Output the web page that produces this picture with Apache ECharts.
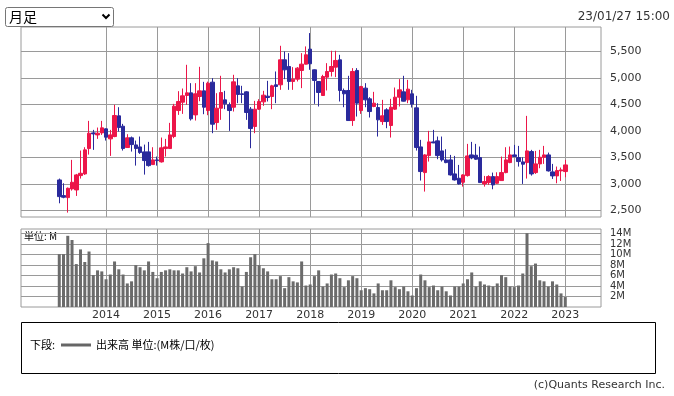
<!DOCTYPE html>
<html><head><meta charset="utf-8">
<script src="https://cdn.jsdelivr.net/npm/echarts@6/dist/echarts.min.js"></script>
<style>html,body{margin:0;padding:0;background:#fff;}#c{width:674px;height:396px;}</style>
</head><body><div id="c"></div>
<script>
// monthly categories Feb 2013 .. Jan 2023
const months = [];
for (let y = 2013, m = 2; months.length < 120;) { months.push(y + '/' + String(m).padStart(2, '0')); m++; if (m > 12) { m = 1; y++; } }

const openP = [3073,2777,2739,2903,2884,3155,3187,3666,3962,3924,3962,4038,3849,3893,4284,4088,3685,3868,3735,3697,
3603,3603,3363,3452,3414,3666,3666,3893,4384,4542,4668,4718,4302,4649,4756,4384,4920,4157,4428,4586,
4492,4447,4851,4700,4737,4410,4082,4410,4548,4655,4649,4870,4870,5342,5216,4933,4977,5141,5260,5544,
5153,4933,4668,5015,5122,5204,5342,4763,4763,4195,5141,4384,4807,4605,4460,4441,4176,4397,4101,4410,
4636,4737,4586,4700,4435,3697,3212,3533,3792,3811,3622,3452,3452,3187,3105,3029,3155,3546,3540,3496,
2998,3023,3136,3010,3061,3212,3401,3546,3496,3414,3401,3609,3212,3376,3502,3546,3225,3149,3244,3231];
const closeP = [2758,2746,2916,3029,3168,3199,3641,3956,3943,3956,4057,3880,3924,4290,4063,3666,3868,3741,3666,3590,
3439,3344,3452,3439,3679,3697,3924,4466,4555,4662,4718,4227,4700,4756,4447,4901,4126,4428,4725,4510,
4384,4926,4687,4687,4347,4044,4410,4555,4674,4630,4851,4838,5342,5153,4933,4977,5185,5260,5437,5267,
4952,4725,5027,5122,5216,5330,4763,4700,4195,5122,4523,4838,4586,4365,4523,4208,4284,4176,4447,4636,
4775,4561,4788,4504,3685,3231,3546,3792,3773,3533,3452,3401,3168,3073,2998,3168,3527,3489,3464,3023,
3042,3136,2979,3136,3212,3452,3546,3515,3420,3370,3622,3187,3376,3502,3546,3244,3149,3250,3263,3357];
const lowP = [2632,2727,2456,2872,2771,3099,3168,3552,3641,3849,3924,3817,3527,3880,3987,3628,3680,3609,3344,3565,
3174,3325,3360,3344,3401,3515,3660,3861,4302,4321,4492,4195,4195,4560,4315,4296,3956,4019,4208,4410,
4000,4365,4523,4523,4208,3672,3956,4397,4473,4555,4410,4523,4775,4977,4775,4775,4933,4807,5255,5153,
4510,4460,4662,4763,5027,5015,4555,4447,4195,4094,4271,4321,4447,4252,4447,3893,4113,4050,3874,4397,
4460,4555,4523,4441,3628,3061,2853,3420,3767,3464,3420,3389,3155,3061,2985,2947,3136,3464,3451,3023,
2947,2979,2897,2998,3061,3199,3389,3502,3325,2998,3099,3155,3187,3294,3376,3231,3092,3010,3054,3124];
const highP = [3099,3010,2930,3452,3187,3628,3691,4189,4019,4063,4189,4045,4019,4492,4447,4132,3937,3893,3817,3893,
3741,3792,3691,3515,3874,3849,4151,4510,4750,4800,5248,4901,4901,5210,4926,4930,4996,4712,5040,4756,
4536,5059,4996,4851,4750,4450,4567,4599,4756,4945,4870,5122,5607,5500,5468,5204,5204,5468,5595,5847,
5160,4940,5059,5279,5513,5513,5437,4800,5040,5185,5185,4850,4901,4637,4737,4523,4586,4428,4605,4819,
4977,5040,4964,4775,4662,3830,3560,4000,4019,3893,3893,3653,3546,3527,3357,3180,3754,3792,3754,3704,
3149,3162,3212,3218,3515,3691,3704,3735,3716,3502,4283,3641,3622,3641,3716,3590,3376,3326,3307,3452];
const volume = [10.1,10.1,13.6,12.8,8.2,11.0,8.6,10.6,6.1,7.0,6.8,5.3,6.2,8.7,7.2,6.2,4.5,4.9,8.0,7.6,
7.0,8.7,6.7,5.5,6.7,7.0,7.2,7.0,7.0,6.4,7.6,6.8,7.8,6.6,9.3,12.2,8.9,8.7,7.2,6.6,
7.2,7.6,7.4,3.9,6.7,9.5,10.1,8.0,7.4,6.8,5.3,5.3,5.9,3.6,5.7,4.9,4.7,8.7,4.1,4.3,
5.9,7.0,3.9,4.5,6.2,6.4,5.5,3.8,5.1,5.9,5.5,3.2,3.6,3.4,2.6,4.5,3.2,3.2,5.1,3.8,
3.4,3.9,3.0,2.2,3.6,6.2,5.1,3.8,4.1,3.2,3.9,3.0,2.2,3.9,3.9,4.5,5.3,6.6,3.9,4.9,
4.3,4.1,3.9,4.5,6.1,5.7,3.9,3.8,4.1,6.4,14.1,7.8,8.3,5.1,4.9,3.9,4.9,4.3,2.6,1.9];

const yearLabels = ['2014','2015','2016','2017','2018','2019','2020','2021','2022','2023'];
const yearIdx = yearLabels.map(y => months.indexOf(y + '/01'));
const priceTicks = [2500,3000,3500,4000,4500,5000,5500];
const volTicks = [2,4,6,8,10,12,14];

const candleData = months.map((m, i) => [i, openP[i], closeP[i], lowP[i], highP[i]]);
const volData = months.map((m, i) => [i, volume[i]]);

const UP = '#ec1649', DOWN = '#2a2a9c', GRID = '#9a9a9a', TXT = '#333';
const FONT = 'DejaVu Sans';
const XMIN = -9.0, XMAX = 127.4;

const chart = echarts.init(document.getElementById('c'), null, { renderer: 'canvas' });
chart.setOption({
  animation: false,
  backgroundColor: '#fff',
  grid: [
    { left: 21, right: 73, top: 27, height: 190, show: true, borderColor: GRID, borderWidth: 1, backgroundColor: 'transparent' },
    { left: 21, right: 73, top: 229, height: 78, show: true, borderColor: GRID, borderWidth: 1, backgroundColor: 'transparent' }
  ],
  xAxis: [
    { type: 'value', gridIndex: 0, min: XMIN, max: XMAX,
      axisLine: { show: false }, axisLabel: { show: false, customValues: yearIdx },
      axisTick: { show: false, customValues: yearIdx },
      splitLine: { show: true, lineStyle: { color: GRID, width: 1 } } },
    { type: 'value', gridIndex: 1, min: XMIN, max: XMAX,
      axisLine: { show: false },
      axisTick: { show: false, customValues: yearIdx },
      axisLabel: { show: true, customValues: yearIdx, margin: 3, color: TXT, fontFamily: FONT, fontSize: 11,
        formatter: v => yearLabels[yearIdx.indexOf(Math.round(v))] || '' },
      splitLine: { show: true, lineStyle: { color: GRID, width: 1 } } }
  ],
  yAxis: [
    { type: 'value', gridIndex: 0, position: 'right', min: 2373, max: 5962,
      axisLine: { show: false },
      axisTick: { show: true, length: 5, customValues: priceTicks, lineStyle: { color: GRID } },
      axisLabel: { customValues: priceTicks, margin: 9, color: TXT, fontFamily: FONT, fontSize: 11,
        formatter: v => v.toLocaleString('en-US') },
      splitLine: { show: true, lineStyle: { color: GRID, width: 1 } } },
    { type: 'value', gridIndex: 1, position: 'right', min: 0, max: 14.9,
      axisLine: { show: false },
      axisTick: { show: true, length: 5, customValues: volTicks, lineStyle: { color: GRID } },
      axisLabel: { customValues: volTicks, margin: 9, color: TXT, fontFamily: FONT, fontSize: 10, lineHeight: 10,
        formatter: v => v + 'M' },
      splitLine: { show: true, lineStyle: { color: GRID, width: 1 } } }
  ],
  series: [
    { type: 'candlestick', xAxisIndex: 0, yAxisIndex: 0, data: candleData, barWidth: 4,
      encode: { x: 0, y: [1, 2, 3, 4] },
      itemStyle: { color: UP, color0: DOWN, borderColor: UP, borderColor0: DOWN, borderWidth: 1 } },
    { type: 'bar', xAxisIndex: 1, yAxisIndex: 1, data: volData, barWidth: 3,
      itemStyle: { color: '#6b6b6b' } }
  ],
  graphic: [
    { type: 'rect', shape: { x: 5.5, y: 7.5, width: 108, height: 19, r: 2 }, style: { fill: '#fff', stroke: '#767676', lineWidth: 1 } },
    { type: 'text', x: 9, y: 17, style: { text: '月足', fontFamily: 'Noto Sans CJK JP', fontSize: 14, fill: '#000', verticalAlign: 'middle' } },
    { type: 'polyline', shape: { points: [[102.5, 14.5], [106, 18], [109.5, 14.5]] }, style: { stroke: '#000', lineWidth: 2, fill: null } },
    { type: 'text', x: 670, y: 17, style: { text: '23/01/27 15:00', fontFamily: FONT, fontSize: 12, fill: TXT, align: 'right', verticalAlign: 'middle' } },
    { type: 'text', x: 24, y: 236, style: { text: '単位: M', fontFamily: 'Noto Sans CJK JP', fontSize: 10, fill: '#000', verticalAlign: 'middle' } },
    { type: 'rect', shape: { x: 21.5, y: 322.5, width: 634, height: 51 }, style: { fill: 'none', stroke: '#000', lineWidth: 1 } },
    { type: 'text', x: 30, y: 345, style: { text: '下段:', fontFamily: 'Noto Sans CJK JP', fontSize: 11, fill: '#000', verticalAlign: 'middle' } },
    { type: 'line', shape: { x1: 61, y1: 345, x2: 91, y2: 345 }, style: { stroke: '#666', lineWidth: 3 } },
    { type: 'text', x: 96, y: 345, style: { text: '出来高 単位:(M株/口/枚)', fontFamily: 'Noto Sans CJK JP', fontSize: 11, fill: '#000', verticalAlign: 'middle' } },
    { type: 'text', x: 665, y: 385, style: { text: '(c)Quants Research Inc.', fontFamily: FONT, fontSize: 11, fill: TXT, align: 'right', verticalAlign: 'middle' } }
  ]
});
</script></body></html>
